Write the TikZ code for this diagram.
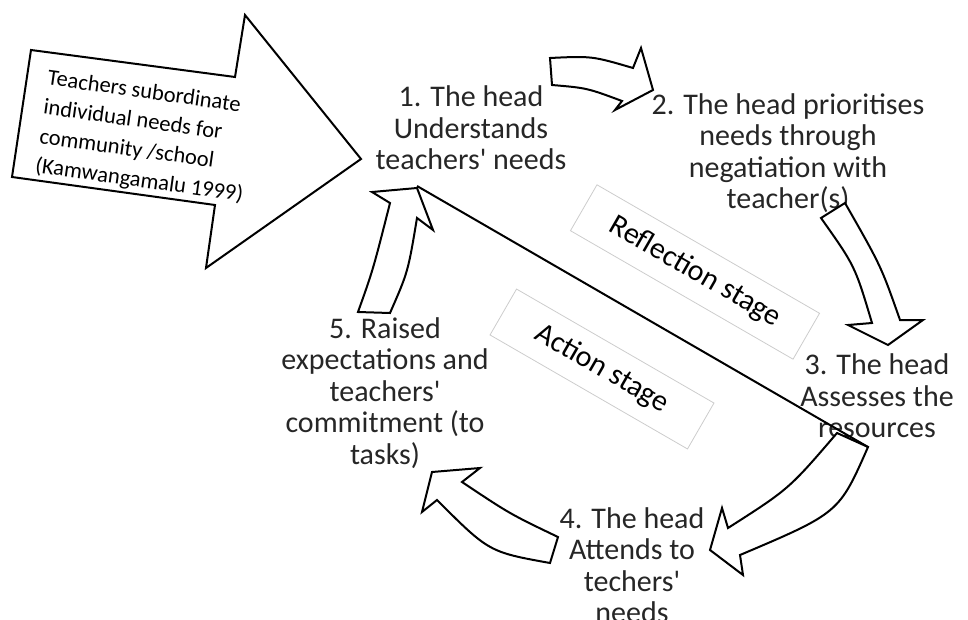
\documentclass[tikz,border=0pt]{standalone}
\usepackage{fontspec}
\setmainfont{Carlito}
\newcommand{\apos}{\XeTeXglyph\XeTeXcharglyph"0027\relax}

\begin{document}
\begin{tikzpicture}[x=1pt,y=-1pt,
	blockarrow/.style={draw=black,line width=2pt,fill=white,line join=miter},
	steptext/.style={font=\fontsize{30}{31.5}\selectfont,align=center,inner sep=0pt,text=black!85},
	stagebox/.style={draw=black!20,line width=0.8pt,rotate=-30,minimum height=53pt,inner sep=0pt,font=\fontsize{30}{32}\selectfont}]
		\useasboundingbox (0,0) rectangle (968,620);
		\coordinate (tipfive) at (417,186);
		\coordinate (cornerfour) at (868,447);

		% input arrow
		\draw[blockarrow] (31,50) -- (235,77) -- (245,15) -- (361,159) -- (206,268) -- (215,205) -- (12,177) -- cycle;
		\node[rotate=-8,anchor=north west,align=left,inner sep=0pt,font=\fontsize{22.5}{29.5}\selectfont] (input) at (49,69) {Teachers subordinate\\individual needs for\\community /school\\(Kamwangamalu 1999)};

		\node[stagebox,minimum width=257pt] (reflect) at (695,272) {Reflection stage};
		\node[stagebox,minimum width=228pt] (action) at (602,369) {Action stage};

		\node[steptext] (head1) at (471,128) {1. The head\\Understands\\teachers\apos{} needs};
		\node[steptext] (head2) at (788,153) {2. The head prioritises\\needs through\\negatiation with\\teacher(s)};
		\node[steptext] (head3) at (877,396) {3. The head\\Assesses the\\resources};
		\node[steptext] (head4) at (632,565) {4. The head\\Attends to\\techers\apos\\needs};
		\node[steptext] (head5) at (385,393) {5. Raised\\expectations and\\teachers\apos\\commitment (to\\tasks)};

		% cycle arrows
		\draw[blockarrow] (550,58) .. controls (592,56) .. (633,68) -- (641,48) -- (653,90) -- (615,110) -- (622,101) .. controls (587,88) .. (552,85) -- cycle;
		\draw[blockarrow] (821,218) -- (845,203) .. controls (881,266) .. (900,320) -- (923,320) -- (888,345) -- (848,325) -- (872,323) .. controls (855,266) .. cycle;
		\draw[blockarrow] (837,433) -- (868,447) .. controls (839,513) .. (740,555) -- (743,575) -- (710,550) -- (722,508) -- (728,528) .. controls (789,489) .. cycle;
		\draw[blockarrow] (558,537) -- (550,563) .. controls (489,552) .. (437,500) -- (422,512) -- (432,472) -- (480,468) -- (462,482) .. controls (510,514) .. cycle;
		\draw[blockarrow] (358,312) -- (390,313) .. controls (408,272) .. (417,218) -- (433,230) -- (417,188) -- (372,192) -- (390,203) .. controls (373,270) .. cycle;

		\draw[line width=2pt] (tipfive) -- (cornerfour);
\end{tikzpicture}
\end{document}
